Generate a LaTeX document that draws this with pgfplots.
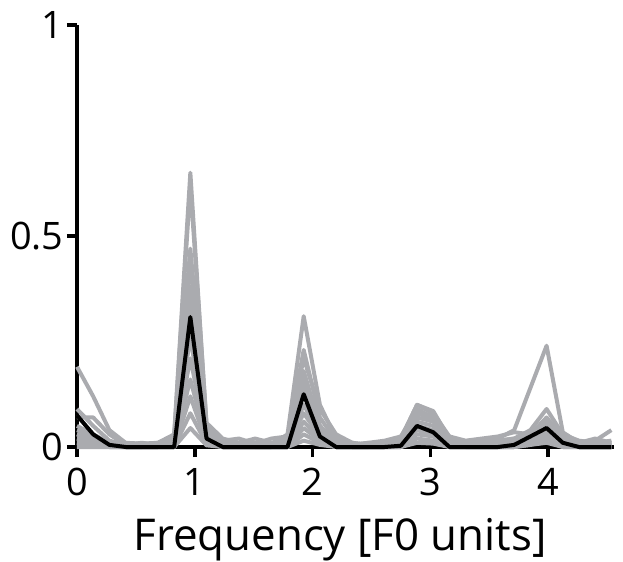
\documentclass[border=0pt]{standalone}
\usepackage{fontspec}
\setmainfont{Open Sans}
\usepackage{pgfplots}
\pgfplotsset{compat=1.18}
\usepackage{pgfplotstable}
\definecolor{trialgray}{RGB}{170,171,175}

% spectra of single trials (g1..g12) and their mean (b)
\pgfplotstableread{
x      g1    g2    g3    g4    g5    g6    g7    g8    g9    g10   g11   g12   b
0      0.03  0.19  0.09  0.07  0.05  0.04  0.03  0.02  0.02  0.01  0.01  0.0   0.075
0.1375 0.015 0.12  0.05  0.07  0.03  0.025 0.02  0.015 0.01  0.01  0.005 0.0   0.03
0.275  0.005 0.04  0.015 0.03  0.01  0.01  0.005 0.005 0.005 0.0   0.0   0.0   0.005
0.4125 0.01  0.01  0.005 0.005 0.005 0.0   0.0   0.0   0.0   0.0   0.0   0.0   0.0
0.55   0.005 0.008 0.01  0.005 0.0   0.005 0.0   0.0   0.0   0.0   0.0   0.0   0.0
0.6875 0.01  0.01  0.005 0.008 0.005 0.0   0.005 0.0   0.0   0.0   0.0   0.0   0.0
0.825  0.03  0.025 0.02  0.015 0.015 0.01  0.01  0.005 0.005 0.0   0.0   0.0   0.0
0.9625 0.65  0.62  0.47  0.44  0.38  0.33  0.26  0.21  0.16  0.12  0.08  0.045 0.308
1.1    0.05  0.057 0.04  0.035 0.03  0.028 0.02  0.017 0.013 0.01  0.007 0.004 0.02
1.2375 0.01  0.02  0.015 0.01  0.008 0.005 0.005 0.0   0.0   0.0   0.0   0.0   0.0
1.375  0.005 0.01  0.02  0.005 0.01  0.0   0.005 0.0   0.0   0.0   0.0   0.0   0.0
1.5125 0.01  0.02  0.008 0.01  0.005 0.005 0.0   0.0   0.0   0.0   0.0   0.0   0.0
1.65   0.005 0.01  0.02  0.005 0.01  0.005 0.0   0.0   0.0   0.0   0.0   0.0   0.0
1.7875 0.03  0.02  0.025 0.015 0.01  0.01  0.005 0.005 0.0   0.0   0.0   0.0   0.0
1.925  0.31  0.23  0.21  0.18  0.16  0.14  0.10  0.08  0.06  0.045 0.03  0.015 0.125
2.0625 0.10  0.07  0.09  0.05  0.05  0.04  0.03  0.025 0.02  0.015 0.01  0.005 0.025
2.2    0.02  0.015 0.03  0.01  0.01  0.01  0.005 0.005 0.0   0.0   0.0   0.0   0.0
2.3375 0.01  0.005 0.01  0.005 0.005 0.0   0.0   0.0   0.0   0.0   0.0   0.0   0.0
2.475  0.005 0.01  0.005 0.01  0.0   0.005 0.0   0.0   0.0   0.0   0.0   0.0   0.0
2.6125 0.01  0.015 0.01  0.005 0.01  0.005 0.005 0.0   0.0   0.0   0.0   0.0   0.0
2.75   0.02  0.025 0.015 0.02  0.01  0.015 0.01  0.005 0.005 0.0   0.0   0.0   0.003
2.8875 0.10  0.09  0.08  0.10  0.07  0.08  0.06  0.05  0.04  0.03  0.02  0.01  0.05
3.025  0.085 0.07  0.075 0.08  0.06  0.065 0.05  0.04  0.03  0.025 0.015 0.008 0.035
3.1625 0.02  0.015 0.02  0.025 0.01  0.015 0.01  0.01  0.005 0.0   0.0   0.0   0.0
3.3    0.01  0.01  0.01  0.015 0.005 0.01  0.005 0.0   0.0   0.0   0.0   0.0   0.0
3.4375 0.01  0.015 0.01  0.02  0.005 0.01  0.005 0.005 0.0   0.0   0.0   0.0   0.0
3.575  0.015 0.02  0.015 0.025 0.01  0.01  0.005 0.005 0.0   0.0   0.0   0.0   0.0
3.7125 0.02  0.04  0.02  0.035 0.01  0.015 0.01  0.005 0.005 0.0   0.0   0.0   0.005
3.85   0.03  0.14  0.04  0.03  0.025 0.02  0.025 0.015 0.01  0.01  0.005 0.005 0.025
3.9875 0.06  0.24  0.09  0.07  0.055 0.04  0.05  0.035 0.03  0.025 0.02  0.01  0.045
4.125  0.02  0.035 0.03  0.025 0.015 0.01  0.015 0.01  0.005 0.005 0.0   0.0   0.01
4.2625 0.01  0.01  0.015 0.01  0.005 0.005 0.0   0.0   0.0   0.0   0.0   0.0   0.0
4.4    0.005 0.015 0.01  0.02  0.005 0.01  0.0   0.0   0.0   0.0   0.0   0.0   0.0
4.5375 0.01  0.04  0.015 0.01  0.005 0.005 0.0   0.0   0.0   0.0   0.0   0.0   0.0
}\spectra

\begin{document}
\begin{tikzpicture}
\begin{axis}[
    scale only axis, width=537bp, height=422bp,
    xmin=0, xmax=4.56, ymin=0, ymax=1,
    axis lines=left, axis line style={-, line width=3.5bp},
    xtick={0,1,2,3,4}, ytick={0,0.5,1},
    tick align=outside, major tick length=10bp,
    tick style={line width=3.5bp, black},
    tick label style={font=\fontsize{38}{38}\selectfont},
    xticklabel style={yshift=-8bp},
    /pgf/number format/assume math mode=true,
    xlabel={Frequency [F0 units]},
    xlabel style={at={(axis description cs:0.49,0)}, anchor=base, yshift=-103bp,
        font=\fontsize{44}{44}\selectfont},
    clip=false,
    every axis plot/.append style={line join=round, line width=4bp},
]
\pgfplotsinvokeforeach{1,...,12}{
    \addplot[trialgray] table[x=x, y=g#1]{\spectra};
}
\addplot[black] table[x=x, y=b]{\spectra};
\end{axis}
\pgfresetboundingbox
\path[use as bounding box] (-77bp,-115bp) rectangle (546bp,447bp);
\end{tikzpicture}
\end{document}
